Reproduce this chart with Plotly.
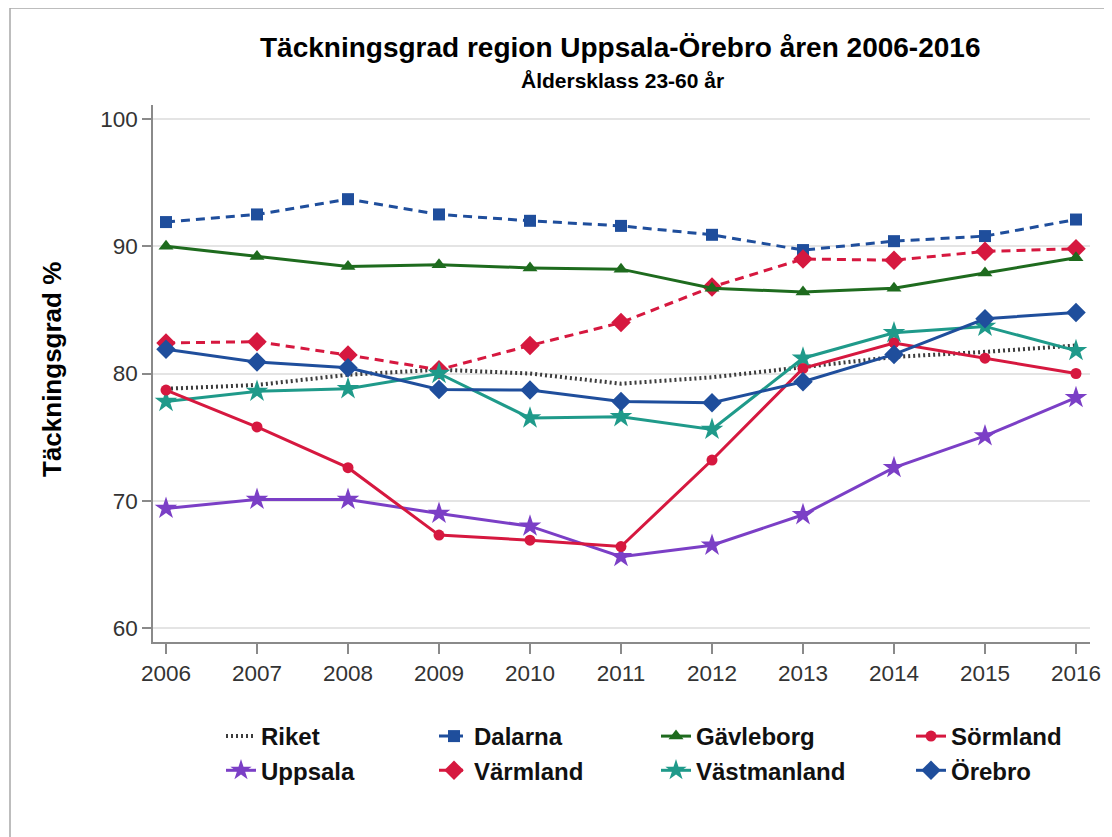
import plotly.graph_objects as go

years = [2006, 2007, 2008, 2009, 2010, 2011, 2012, 2013, 2014, 2015, 2016]
riket = [78.8, 79.1, 79.9, 80.3, 80.0, 79.2, 79.7, 80.5, 81.3, 81.7, 82.2]
dalarna = [91.9, 92.5, 93.7, 92.5, 92.0, 91.6, 90.9, 89.7, 90.4, 90.8, 92.1]
gavleborg = [90.0, 89.2, 88.4, 88.55, 88.3, 88.2, 86.7, 86.4, 86.7, 87.9, 89.1]
sormland = [78.7, 75.8, 72.6, 67.3, 66.9, 66.4, 73.2, 80.4, 82.4, 81.2, 80.0]
uppsala = [69.4, 70.1, 70.1, 69.0, 68.0, 65.6, 66.5, 68.9, 72.6, 75.1, 78.1]
varmland = [82.4, 82.5, 81.45, 80.3, 82.2, 84.0, 86.8, 89.0, 88.9, 89.6, 89.8]
vastmanland = [77.8, 78.6, 78.8, 80.0, 76.5, 76.6, 75.6, 81.2, 83.2, 83.7, 81.8]
orebro = [81.9, 80.9, 80.45, 78.75, 78.7, 77.8, 77.7, 79.35, 81.5, 84.3, 84.8]
y_ticks = [60, 70, 80, 90, 100]

BLUE = "#1f4e9c"
GREEN = "#1e6b1e"
RED = "#d6183f"
PURPLE = "#7b3fc6"
TEAL = "#1f9a8a"
GRAY = "#3c3c3c"

OFF = 8  # page body margin
W, H = 1112 - OFF, 837 - OFF
# plot area in page pixels
L, R, T, B = 153, 1090, 105, 642
pw, ph = R - L, B - T


def px(x):
    return (x - L) / pw


def py(y):
    return (B - y) / ph


fig = go.Figure()

series = [
    ("Riket", riket, GRAY, "2px,3px", 4, None, 0, "legend"),
    ("Uppsala", uppsala, PURPLE, "solid", 3, "star", 17, "legend"),
    ("Dalarna", dalarna, BLUE, "9px,6px", 3, "square", 12, "legend2"),
    ("Värmland", varmland, RED, "9px,6px", 3, "diamond", 15, "legend2"),
    ("Gävleborg", gavleborg, GREEN, "solid", 3, "triangle-up", 13, "legend3"),
    ("Västmanland", vastmanland, TEAL, "solid", 3, "star", 17, "legend3"),
    ("Sörmland", sormland, RED, "solid", 3, "circle", 11, "legend4"),
    ("Örebro", orebro, BLUE, "solid", 3, "diamond", 15, "legend4"),
]

for name, vals, col, dash, lw, sym, ms, lg in series:
    if sym is None:
        fig.add_trace(go.Scatter(x=years, y=vals, name=name, mode="lines",
                                 line=dict(color=col, width=lw, dash=dash),
                                 legend=lg))
    else:
        fig.add_trace(go.Scatter(x=years, y=vals, name=name, mode="lines+markers",
                                 line=dict(color=col, width=lw, dash=dash),
                                 marker=dict(symbol=sym, size=ms, color=col,
                                             line=dict(width=0)),
                                 legend=lg))

FONT = "Liberation Sans, Arial, sans-serif"
legfont = dict(family=FONT, size=24, color="#111111", weight="bold")
leg_common = dict(orientation="v", xanchor="left", yanchor="top", font=legfont,
                  bgcolor="rgba(0,0,0,0)", tracegroupgap=0, itemwidth=30,
                  itemclick=False, itemdoubleclick=False)
leg_y = py(714)
legend_x = [221, 434, 656, 911]

fig.update_layout(
    width=W, height=H,
    margin=dict(l=L - OFF, r=W - (R - OFF), t=T - OFF, b=H - (B - OFF), pad=0),
    paper_bgcolor="white", plot_bgcolor="white",
    showlegend=True,
    legend=dict(x=px(legend_x[0]), y=leg_y, **leg_common),
    legend2=dict(x=px(legend_x[1]), y=leg_y, **leg_common),
    legend3=dict(x=px(legend_x[2]), y=leg_y, **leg_common),
    legend4=dict(x=px(legend_x[3]), y=leg_y, **leg_common),
    xaxis=dict(range=[2005.857, 2016.154], tickvals=years, ticktext=[str(y) for y in years],
               showgrid=False, zeroline=False, showline=True, linecolor="#8a8a8a", linewidth=1.5,
               ticks="outside", ticklen=10, tickcolor="#8a8a8a", tickwidth=1.5,
               tickfont=dict(family=FONT, size=22.5, color="#333333")),
    yaxis=dict(range=[58.9, 101.1], tickvals=y_ticks,
               showgrid=True, gridcolor="#e4e4e4", gridwidth=1.5, zeroline=False,
               showline=True, linecolor="#8a8a8a", linewidth=1.5,
               ticks="outside", ticklen=9, tickcolor="#8a8a8a", tickwidth=1.5,
               tickfont=dict(family=FONT, size=22.5, color="#333333")),
    annotations=[
        dict(text="<b>Täckningsgrad region Uppsala-Örebro åren 2006-2016</b>",
             x=px(620), y=py(47), xref="paper", yref="paper", showarrow=False,
             xanchor="center", yanchor="middle",
             font=dict(family=FONT, size=28, color="#000000")),
        dict(text="<b>Åldersklass 23-60 år</b>",
             x=px(622), y=py(80), xref="paper", yref="paper", showarrow=False,
             xanchor="center", yanchor="middle",
             font=dict(family=FONT, size=21, color="#000000")),
        dict(text="<b>Täckningsgrad %</b>", textangle=-90,
             x=px(52), y=py(370), xref="paper", yref="paper", showarrow=False,
             xanchor="center", yanchor="middle",
             font=dict(family=FONT, size=26, color="#000000")),
    ],
    shapes=[
        dict(type="rect", xref="paper", yref="paper",
             x0=px(10), x1=px(1130), y0=py(860), y1=py(8),
             line=dict(color="#a8a8a8", width=1.5), fillcolor="rgba(0,0,0,0)", layer="below"),
    ],
)

fig.write_html("out.html")
